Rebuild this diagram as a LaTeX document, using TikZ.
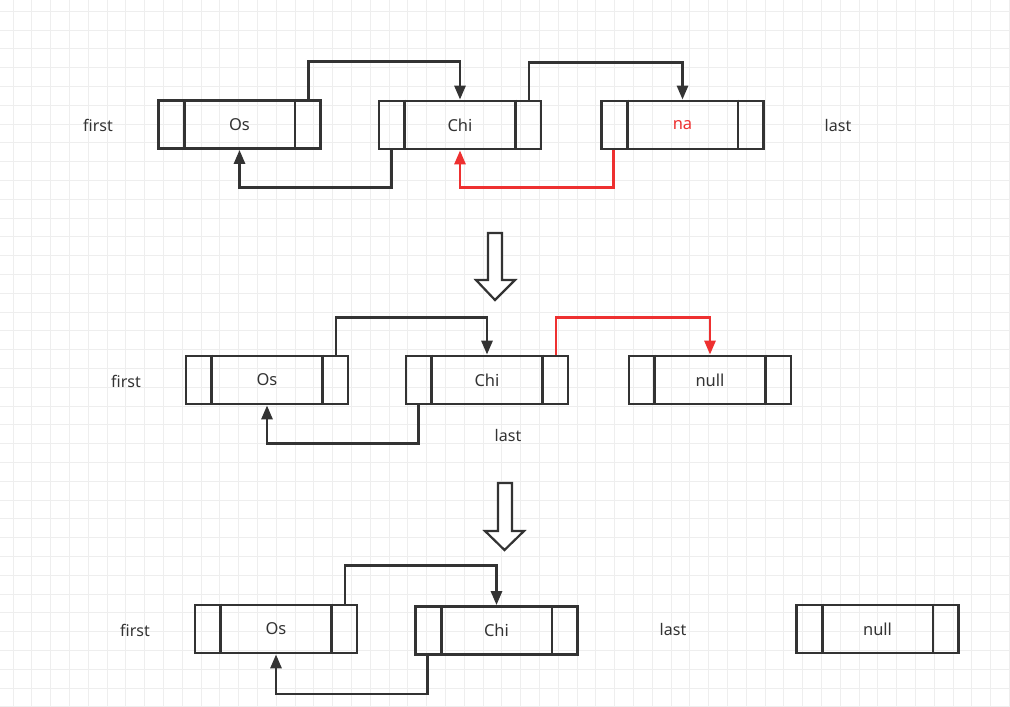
\documentclass[tikz,border=0pt]{standalone}
\usepackage{fontspec}
\setmainfont{Noto Sans}
\usetikzlibrary{arrows.meta}
\definecolor{ink}{HTML}{333333}
\definecolor{redl}{HTML}{EE3030}
\definecolor{gridc}{HTML}{EEEEEE}
\tikzset{
  lbox/.style={draw=ink, line width=2.8pt, minimum width=162pt, minimum height=48pt,
    inner sep=0pt, text=ink, font=\fontsize{16.5}{19}\selectfont},
  lbl/.style={text=ink, inner sep=0pt, font=\fontsize{16}{19}\selectfont},
  link/.style={draw=ink, line width=2.8pt, -{Triangle[length=14pt,width=11pt]}},
  rlink/.style={link, draw=redl},
  hollow/.style={draw=ink, line width=2.2pt, fill=white, line join=miter},
  divider/.style={draw=ink, line width=2.8pt},
}
\newcommand\mydividers[1]{%
  \draw[divider] ([xshift=27pt]#1.north west) -- ([xshift=27pt]#1.south west)
                 ([xshift=-27pt]#1.north east) -- ([xshift=-27pt]#1.south east);}
\begin{document}
\begin{tikzpicture}[x=1pt,y=-1pt]
\useasboundingbox (0,0) rectangle (1010,707);
\fill[white] (0,0) rectangle (1010,707);
% grid
\foreach \i in {0,...,53} {\draw[gridc, line width=1pt] ({13+18.8*\i},0) -- ({13+18.8*\i},707);}
\foreach \j in {0,...,37} {\draw[gridc, line width=1pt] (0,{11.2+18.8*\j}) -- (1010,{11.2+18.8*\j});}

% ---------- row 1 ----------
\node[lbox] (os1)  at (239.5,124.5) {Os};
\node[lbox] (chi1) at (460,125) {Chi};
\node[lbox, text=redl] (na1) at (682.5,125) {na};
\mydividers{os1}\mydividers{chi1}\mydividers{na1}
\node[lbl] (first1) at (98,125.5) {first};
\node[lbl] (last1) at (838,125.5) {last};
\draw[link] ([xshift=-13.5pt]os1.north east) -- ++(0,37.5pt) -| (chi1.north);
\draw[link] ([xshift=-13.5pt]chi1.north east) -- ++(0,37.5pt) -| (na1.north);
\draw[link] ([xshift=13.5pt]chi1.south west) -- ++(0,-37pt) -| (os1.south);
\draw[rlink] ([xshift=13.5pt]na1.south west) -- ++(0,-37pt) -| (chi1.south);

% hollow arrow 1
\draw[hollow] (488,233) -- (502,233) -- (502,280) -- (515,280) -- (495,300) -- (476,280) -- (488,280) -- cycle;

% ---------- row 2 ----------
\node[lbox] (os2)  at (267,380) {Os};
\node[lbox] (chi2) at (487,380) {Chi};
\node[lbox] (null2) at (710,380) {null};
\mydividers{os2}\mydividers{chi2}\mydividers{null2}
\node[lbl] (first2) at (126,381) {first};
\node[lbl] (last2) at (508,435.5) {last};
\draw[link] ([xshift=-13.5pt]os2.north east) -- ++(0,37.5pt) -| (chi2.north);
\draw[link] ([xshift=13.5pt]chi2.south west) -- ++(0,-38pt) -| (os2.south);
\draw[rlink] ([xshift=-13.5pt]chi2.north east) -- ++(0,37.5pt) -| (null2.north);

% hollow arrow 2
\draw[hollow] (498,483) -- (512,483) -- (512,531) -- (524,531) -- (504.5,550) -- (485,531) -- (498,531) -- cycle;

% ---------- row 3 ----------
\node[lbox] (os3)  at (276,629) {Os};
\node[lbox] (chi3) at (496.5,630.5) {Chi};
\node[lbox] (null3) at (877.5,629) {null};
\mydividers{os3}\mydividers{chi3}\mydividers{null3}
\node[lbl] (first3) at (135,630) {first};
\node[lbl] (last3) at (673,629) {last};
\draw[link] ([xshift=-13.5pt]os3.north east) -- ++(0,38pt) -| (chi3.north);
\draw[link] ([xshift=13.5pt]chi3.south west) -- ++(0,-38pt) -| (os3.south);
\end{tikzpicture}
\end{document}
